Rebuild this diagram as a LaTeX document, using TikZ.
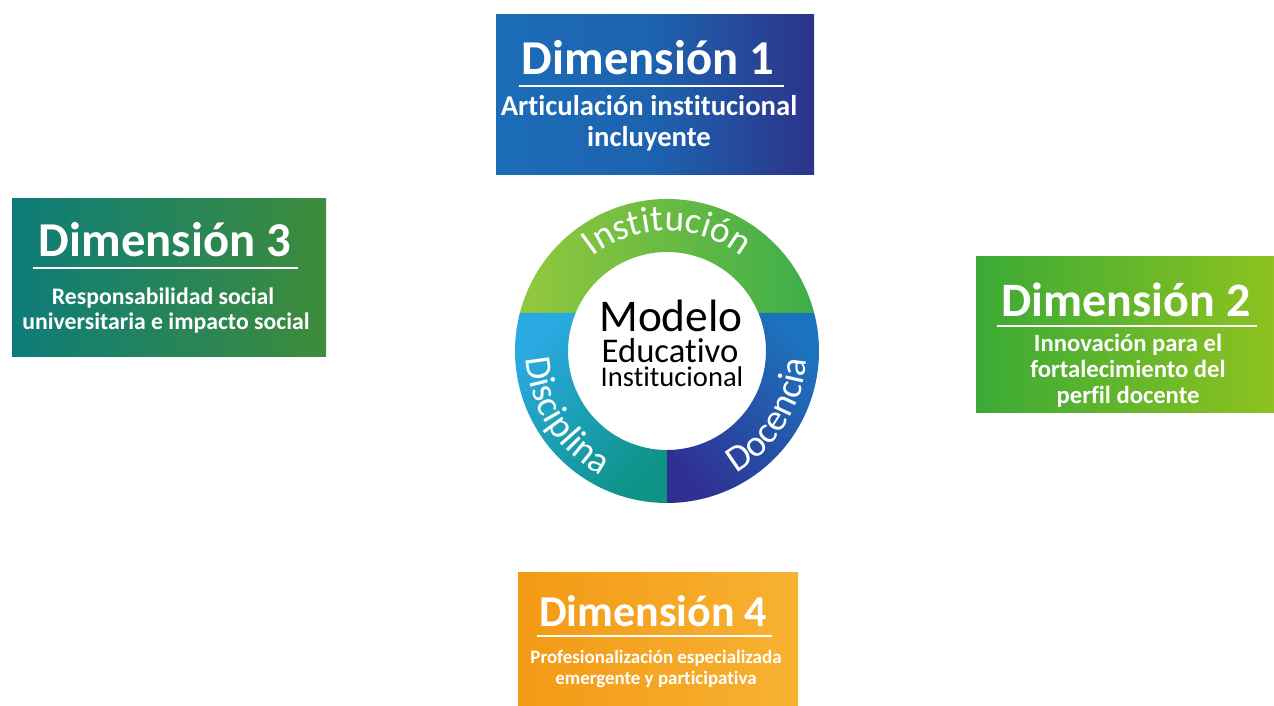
\documentclass[tikz,border=0pt]{standalone}
\usepackage{fontspec}
\setmainfont{Carlito}[Ligatures=NoCommon]
\usetikzlibrary{decorations.text}

\definecolor{dimUnoA}{HTML}{1C6DB8}
\definecolor{dimUnoM}{HTML}{1D62AE}
\definecolor{dimUnoB}{HTML}{2C348A}
\definecolor{dimDosA}{HTML}{3BAA36}
\definecolor{dimDosB}{HTML}{8DC220}
\definecolor{dimTresA}{HTML}{0D7C79}
\definecolor{dimTresB}{HTML}{3E8C3B}
\definecolor{dimCuatroA}{HTML}{F39A16}
\definecolor{dimCuatroB}{HTML}{F7B232}
\definecolor{instA}{HTML}{93C83D}
\definecolor{instB}{HTML}{3DAE4A}
\definecolor{discA}{HTML}{2AAAE2}
\definecolor{discB}{HTML}{0E9388}
\definecolor{docA}{HTML}{1D74BE}
\definecolor{docB}{HTML}{2E3192}

\newcommand\ringfont{\fontsize{28}{28}\selectfont\color{white}}

\begin{document}
\begin{tikzpicture}[x=0.75pt, y=0.75pt,
    titulo/.style={anchor=base, text=white, inner sep=0, font=\fontsize{#1}{#1}\selectfont\bfseries},
    sub/.style={anchor=base, text=white, inner sep=0, font=\fontsize{#1}{#1}\selectfont\bfseries},
    raya/.style={white, line width=2.2pt},
    centro/.style={anchor=base, inner sep=0, font=\fontsize{#1}{#1}\selectfont}]

    \useasboundingbox (0,0) rectangle (1274,706);

    % cajas
    \shade[left color=dimUnoA, right color=dimUnoB, middle color=dimUnoM] (496,531) rectangle (814,691);
    \shade[left color=dimTresA, right color=dimTresB] (12,349) rectangle (326,507);
    \shade[left color=dimDosA, right color=dimDosB] (976,293) rectangle (1274,449);
    \shade[left color=dimCuatroA, right color=dimCuatroB] (518,0) rectangle (798,133);

    % Dimension 1
    \node[titulo=36.5] (d1) at (648,631) {Dimensión 1};
    \draw[raya] (519,620) -- (784,620);
    \node[sub=21.5] (d1a) at (649,590) {Articulación institucional};
    \node[sub=21.5] (d1b) at (649,559) {incluyente};

    % Dimension 3
    \node[titulo=36.5] (d3) at (165,449) {Dimensión 3};
    \draw[raya] (33,438) -- (298,438);
    \node[sub=17.8] (d3a) at (163,401) {Responsabilidad social};
    \node[sub=17.8] (d3b) at (166,376) {universitaria e impacto social};

    % Dimension 2
    \node[titulo=36] (d2) at (1126,389) {Dimensión 2};
    \draw[raya] (997,380) -- (1257,380);
    \node[sub=18.5] (d2a) at (1128,354) {Innovación para el};
    \node[sub=18.5] (d2b) at (1128,328) {fortalecimiento del};
    \node[sub=18.5] (d2c) at (1128,302) {perfil docente};

    % Dimension 4
    \node[titulo=33] (d4) at (653,79) {Dimensión 4};
    \draw[raya] (537,70) -- (772,70);
    \node[sub=14.2] (d4a) at (656,42) {Profesionalización especializada};
    \node[sub=14.2] (d4b) at (656,21) {emergente y participativa};

    % anillo
    \coordinate (c) at (667,355);
    \begin{scope}[shift={(c)}]
        \shade[left color=instA, right color=instB]
            (14.5:152) arc[start angle=14.5, end angle=165.5, radius=152]
            -- (157.4:99) arc[start angle=157.4, end angle=22.6, radius=99] -- cycle;
        \shade[top color=discA, bottom color=discB, shading angle=45]
            (165.5:152) arc[start angle=165.5, end angle=270, radius=152]
            -- (270:99) arc[start angle=270, end angle=157.4, radius=99] -- cycle;
        \shade[top color=docA, bottom color=docB, shading angle=-50]
            (-90:152) arc[start angle=-90, end angle=14.5, radius=152]
            -- (22.6:99) arc[start angle=22.6, end angle=-90, radius=99] -- cycle;

        \path[decorate, decoration={text along path, text align=center,
            text={|\ringfont|Institución}}]
            (150:120) arc[start angle=150, end angle=30, radius=120];
        \path[decorate, decoration={text along path, text align=center,
            text={|\ringfont|Disciplina}}]
            (150:141) arc[start angle=150, end angle=275, radius=141];
        \path[decorate, decoration={text along path, text align=center,
            text={|\ringfont|Docencia}}]
            (270:140) arc[start angle=270, end angle=386, radius=140];
    \end{scope}

    % texto central
    \node[centro=34] (modelo) at (671,374) {Modelo};
    \node[centro=26] (educ) at (670,343) {Educativo};
    \node[centro=21.4] (inst) at (672,319) {Institucional};

\end{tikzpicture}
\end{document}
